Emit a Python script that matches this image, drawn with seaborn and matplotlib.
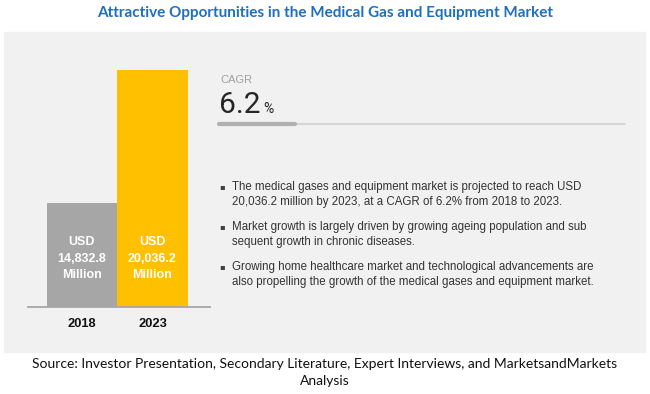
import matplotlib
matplotlib.use("Agg")
import matplotlib.pyplot as plt
import matplotlib.transforms as mtransforms
from matplotlib.patches import Rectangle
import seaborn as sns
import pandas as pd

# data
years = ["2018", "2023"]
market_size = [14832.8, 20036.2]
bar_labels = ["14,832.8", "20,036.2"]
bar_colors = ["#A6A6A6", "#FFC000"]
cagr = "6.2"

title = "Attractive Opportunities in the Medical Gas and Equipment Market"
bullets = [
    ["The medical gases and equipment market is projected to reach USD",
     "20,036.2 million by 2023, at a CAGR of 6.2% from 2018 to 2023."],
    ["Market growth is largely driven by growing ageing population and sub",
     "sequent growth in chronic diseases."],
    ["Growing home healthcare market and technological advancements are",
     "also propelling the growth of the medical gases and equipment market."],
]
source = ["Source: Investor Presentation, Secondary Literature, Expert Interviews, and MarketsandMarkets",
          "Analysis"]

sns.set_theme(style="white")

W, H = 650, 394
fig = plt.figure(figsize=(W / 100, H / 100), dpi=100)
fig.patch.set_facecolor("white")

def fy(y):
    # pixel from top -> figure fraction
    return (H - y) / H

def fx(x):
    return x / W

# background panel
fig.patches.append(Rectangle((fx(4), fy(352)), fx(641), (352 - 32) / H,
                             transform=fig.transFigure, color="#F1F1F1", zorder=-1))

fig.text(0.5, fy(13), title, ha="center", va="center", color="#1F6FC0",
         fontsize=11, fontweight="bold", family="Lato")

# bars
df = pd.DataFrame({"Year": years, "Value": market_size})
ax = fig.add_axes([fx(28), fy(306.7), 182 / W, (306.7 - 70) / H])
ax.set_zorder(2)
ax.patch.set_alpha(0)
sns.barplot(data=df, x="Year", y="Value", hue="Year", palette=bar_colors,
            width=1.0, legend=False, ax=ax, saturation=1, linewidth=0)
ax.set_xlim(-0.764, 1.815)
ax.set_ylim(10754, 20036.2)
for s in ["top", "right", "left"]:
    ax.spines[s].set_visible(False)
ax.spines["bottom"].set_color("#A6A6A6")
ax.spines["bottom"].set_linewidth(1.3)
ax.set_xlabel("")
ax.set_ylabel("")
ax.set_yticks([])
ax.tick_params(axis="x", length=0, pad=8)
for lab in ax.get_xticklabels():
    lab.set_fontsize(9.3)
    lab.set_fontweight("bold")
    lab.set_family("Liberation Sans")
    lab.set_color("#111111")

trans = mtransforms.blended_transform_factory(ax.transData, fig.transFigure)
for i, lab in enumerate(bar_labels):
    for txt, yy in [("USD", 242), (lab, 258.5), ("Million", 274.5)]:
        ax.text(i, fy(yy), txt, transform=trans, ha="center", va="center",
                color="white", fontsize=9, fontweight="bold", family="Liberation Sans")

# CAGR block
fig.text(fx(220), fy(80), "CAGR", ha="left", va="center", color="#A0A0A0",
         fontsize=8, family="Liberation Sans")
fig.text(fx(219), fy(113), cagr, ha="left", va="baseline", color="#262626",
         fontsize=21.5, family="Roboto")
fig.text(fx(263), fy(113), "%", ha="left", va="baseline", color="#262626",
         fontsize=10, family="Roboto")
fig.add_artist(plt.Line2D([fx(219), fx(625)], [fy(124), fy(124)],
                          transform=fig.transFigure, color="#D0D0D0", lw=1.2))
fig.add_artist(plt.Line2D([fx(219), fx(295)], [fy(124), fy(124)],
                          transform=fig.transFigure, color="#B0B0B0", lw=3))

# bullets
y0 = [187, 227, 267]
for yb, lines in zip(y0, bullets):
    fig.text(fx(219), fy(yb), "\u25aa", ha="left", va="center", color="#404040",
             fontsize=6, family="DejaVu Sans")
    for k, line in enumerate(lines):
        fig.text(fx(232), fy(yb + 15 * k), line, ha="left", va="center",
                 color="#333333", fontsize=8.3, family="Liberation Sans")

for k, line in enumerate(source):
    fig.text(0.5, fy(364 + 17 * k), line, ha="center", va="center",
             color="#111111", fontsize=10, family="Lato")

fig.savefig("out.png", dpi=100)
